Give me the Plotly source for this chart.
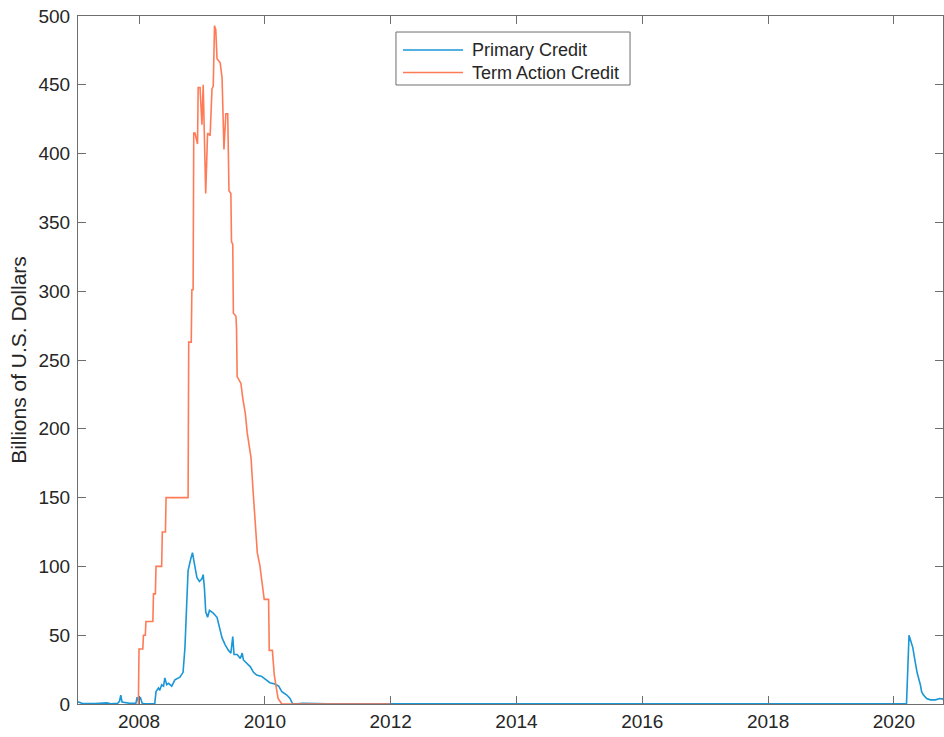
import plotly.graph_objects as go

# Term Auction Facility credit (billions of USD), decimal years
taf_years = [2007.99, 2008.00, 2008.06, 2008.07, 2008.10, 2008.11, 2008.22, 2008.23,
             2008.26, 2008.27, 2008.36, 2008.37, 2008.42, 2008.43, 2008.78, 2008.79,
             2008.83, 2008.84, 2008.86, 2008.87, 2008.89, 2008.93, 2008.94, 2008.97,
             2009.00, 2009.02, 2009.06, 2009.09, 2009.13, 2009.16, 2009.18, 2009.20,
             2009.22, 2009.24, 2009.29, 2009.32, 2009.35, 2009.38, 2009.41, 2009.43,
             2009.46, 2009.47, 2009.49, 2009.50, 2009.54, 2009.55, 2009.56, 2009.62,
             2009.65, 2009.69, 2009.72, 2009.78, 2009.81, 2009.84, 2009.88, 2009.92,
             2009.96, 2009.99, 2010.06, 2010.07, 2010.12, 2010.15, 2010.21, 2010.27,
             2012.00]
taf_values = [0, 40, 40, 50, 50, 60, 60, 80,
              80, 100, 100, 125, 125, 150, 150, 263,
              263, 301, 301, 415, 415, 407, 448, 448,
              421, 450, 371, 415, 413, 447, 449, 493,
              490, 469, 466, 455, 403, 429, 429, 373,
              371, 336, 334, 284, 282, 273, 238, 233,
              222, 211, 197, 179, 157, 139, 110, 101,
              85, 76, 76, 39, 39, 21, 4, 0,
              0]

# Primary credit (billions of USD), decimal years
pc_years = [2007.00, 2007.03, 2007.06, 2007.10, 2007.30, 2007.49, 2007.55, 2007.66,
            2007.69, 2007.71, 2007.73, 2007.78, 2007.85, 2007.95, 2007.97, 2007.99,
            2008.02, 2008.05, 2008.10, 2008.25, 2008.27, 2008.31, 2008.33, 2008.36,
            2008.39, 2008.41, 2008.44, 2008.47, 2008.52, 2008.57, 2008.65, 2008.70,
            2008.73, 2008.76, 2008.78, 2008.82, 2008.85, 2008.88, 2008.92, 2008.96,
            2009.00, 2009.02, 2009.04, 2009.06, 2009.09, 2009.12, 2009.18, 2009.24,
            2009.29, 2009.32, 2009.37, 2009.42, 2009.46, 2009.49, 2009.51, 2009.56,
            2009.61, 2009.64, 2009.66, 2009.71, 2009.77, 2009.82, 2009.87, 2009.95,
            2010.03, 2010.08, 2010.16, 2010.22, 2010.27, 2010.35, 2010.40, 2010.44,
            2010.51, 2010.60, 2011.00, 2014.00, 2018.00, 2020.20, 2020.24, 2020.26,
            2020.27, 2020.30, 2020.34, 2020.37, 2020.42, 2020.44, 2020.47, 2020.52,
            2020.58, 2020.66, 2020.73, 2020.79]
pc_values = [0.8, 1.5, 1.0, 0.3, 0.3, 0.8, 0.2, 0.5,
             2, 6.5, 1.5, 1.0, 0.5, 0.5, 5, 2,
             5, 0.5, 0.2, 0.3, 9, 11.6, 10, 14,
             13, 19, 14, 15, 13, 17.5, 19.5, 23,
             41, 75, 97, 105, 110, 102, 92, 89,
             91, 94, 84, 67, 63, 68, 66, 63,
             54, 48, 43, 39, 37, 49, 36, 36,
             33, 37, 32, 30, 27, 23, 21, 20,
             17.5, 15.5, 14.5, 13, 9, 6.5, 4, 0.3,
             0.2, 0.5, 0.1, 0.1, 0.1, 0.2, 50, 47,
             44, 41, 30, 22.5, 14, 9, 6.5, 4,
             3, 3, 4, 3.5]

series_names = ["Primary Credit", "Term Action Credit"]
series_colors = ["#1b96d6", "#ff7b57"]

x_ticks = [2008, 2010, 2012, 2014, 2016, 2018, 2020]
y_ticks = [0, 50, 100, 150, 200, 250, 300, 350, 400, 450, 500]

font_family = "Liberation Sans, Arial, Helvetica, sans-serif"
axis_color = "#6e6e6e"
text_color = "#262626"

fig = go.Figure()
fig.add_trace(go.Scatter(x=pc_years, y=pc_values, mode="lines", name=series_names[0],
                         line=dict(color=series_colors[0], width=1.6)))
fig.add_trace(go.Scatter(x=taf_years, y=taf_values, mode="lines", name=series_names[1],
                         line=dict(color=series_colors[1], width=1.6)))

# Legend box drawn in paper coordinates (MATLAB-style legend)
box_x0, box_x1, box_y0, box_y1 = 0.3676, 0.6382, 0.8997, 0.9767
sample_x0, sample_x1, text_x = 0.3757, 0.4451, 0.4532
row_y = [0.9506, 0.9178]
shapes = [dict(type="rect", xref="paper", yref="paper", x0=box_x0, x1=box_x1,
               y0=box_y0, y1=box_y1, line=dict(color="#6e6e6e", width=1),
               fillcolor="white", layer="above")]
annotations = []
for name, color, yy in zip(series_names, series_colors, row_y):
    shapes.append(dict(type="line", xref="paper", yref="paper", x0=sample_x0, x1=sample_x1,
                       y0=yy, y1=yy, line=dict(color=color, width=1.6), layer="above"))
    annotations.append(dict(xref="paper", yref="paper", x=text_x, y=yy, text=name,
                            showarrow=False, xanchor="left", yanchor="middle",
                            font=dict(size=18, color=text_color, family=font_family)))

fig.update_layout(
    width=944, height=737,
    margin=dict(l=78, r=1, t=16, b=33),
    paper_bgcolor="white", plot_bgcolor="white",
    font=dict(family=font_family, size=19, color=text_color),
    showlegend=False,
    hovermode=False,
    shapes=shapes,
    annotations=annotations,
)
fig.update_xaxes(
    range=[2007.03, 2020.78], tickvals=x_ticks, ticktext=[str(v) for v in x_ticks],
    showgrid=False, zeroline=False, showline=True, linecolor=axis_color, linewidth=1,
    mirror="ticks", ticks="inside", ticklen=8, tickcolor=axis_color,
    ticklabelstandoff=0, automargin=False, ticklabeloverflow="allow",
)
fig.update_yaxes(
    range=[0, 500], tickvals=y_ticks,
    showgrid=False, zeroline=False, showline=True, linecolor=axis_color, linewidth=1,
    mirror="ticks", ticks="inside", ticklen=8, tickcolor=axis_color,
    ticklabelstandoff=3, automargin=False, ticklabeloverflow="allow",
    title=dict(text="Billions of U.S. Dollars", font=dict(size=21, color=text_color), standoff=6),
)

# Remove the default 8px page margin so the figure fills the window exactly
fig.write_html("out.html",
               config={"displayModeBar": False},
               post_script="document.body.style.margin='0px';document.body.style.overflow='hidden';")
